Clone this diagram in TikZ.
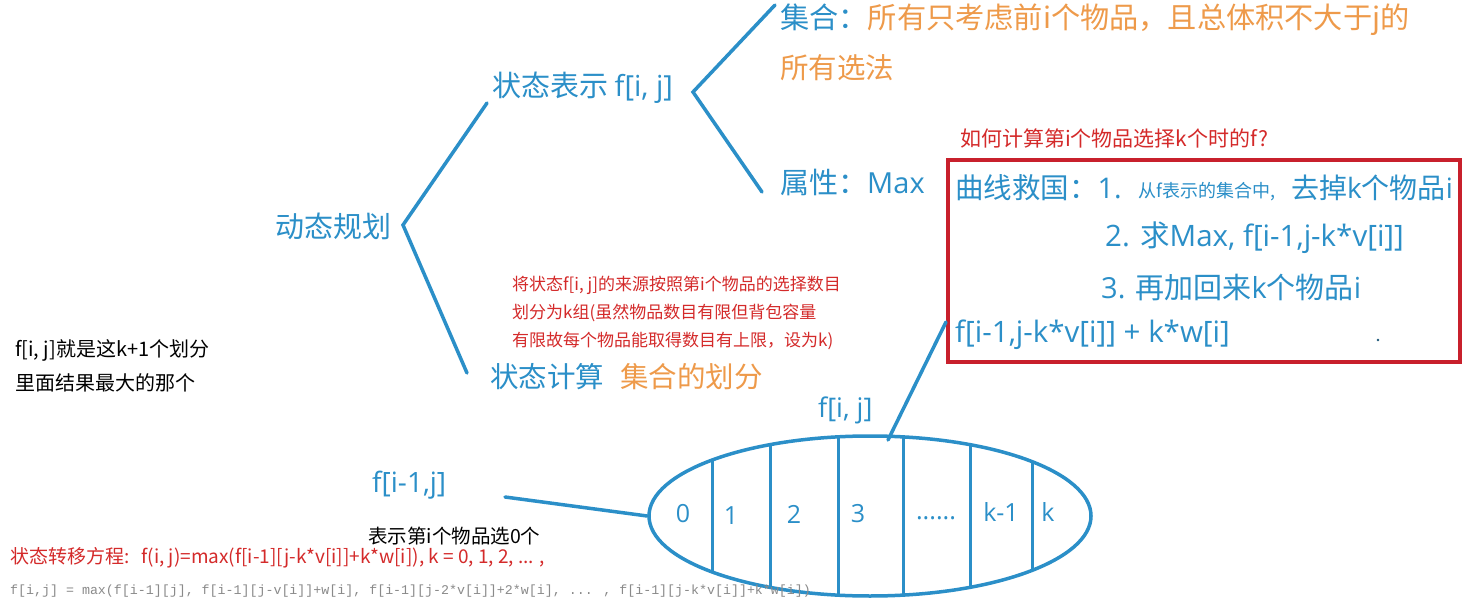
\documentclass[tikz,border=0pt]{standalone}
\usepackage{fontspec}
\setmainfont{Noto Sans CJK SC}
\newfontfamily\monof{Liberation Mono}
\newfontfamily\osans{Open Sans}
\newcommand{\lt}[1]{{\osans #1}}
\usetikzlibrary{shapes.geometric}
\definecolor{cblue}{HTML}{2B8FC8}
\definecolor{corange}{HTML}{EE9A4A}
\definecolor{cred}{HTML}{D42A2A}
\definecolor{boxred}{HTML}{C8202C}
\definecolor{cgray}{HTML}{8A8A8A}
\newcommand{\fs}[1]{\fontsize{#1}{#1}\selectfont}
\begin{document}
\begin{tikzpicture}[x=1pt,y=-1pt,
  lbl/.style={inner sep=0pt, anchor=west},
  bigblue/.style={lbl, text=cblue, font=\fs{29.5}},
  bigorange/.style={lbl, text=corange, font=\fs{28.5}},
  rednote/.style={lbl, text=cred, font=\fs{17}},
  blacknote/.style={lbl, text=black, font=\fs{20}},
  cell/.style={inner sep=0pt, text=cblue, font=\osans\fs{25}},
  bline/.style={draw=cblue, line width=3.5pt, line cap=round},
  cline/.style={draw=cblue, line width=3pt}]
\useasboundingbox[fill=white] (0,0) rectangle (1472,604);

% tree nodes
\node[bigblue, font=\fs{29}] (dp) at (275,226) {动态规划};
\node[bigblue, font=\fs{29}] (rep) at (492,88) {状态表示 \lt{f[i, j]}};
\node[bigorange, font=\fs{29.2}] (set) at (780,20) {{\color{cblue}集合：}所有只考虑前i个物品，且总体积不大于j的};
\node[bigorange] (set2) at (780,68) {所有选法};
\node[bigblue, font=\fs{29}] (attr) at (780,182) {属性：\lt{Max}};
\node[bigblue, font=\fs{28.5}] (calc) at (490,377) {状态计算};
\node[bigorange] (part) at (620,377) {集合的划分};

% brackets
\coordinate (b1) at (403,225);
\coordinate (b1u) at (487,103);
\coordinate (b1d) at (467,373);
\draw[bline] (b1u) -- (b1) -- (b1d);
\coordinate (b2) at (693,92);
\coordinate (b2u) at (775,5);
\coordinate (b2d) at (762,192);
\draw[bline] (b2u) -- (b2) -- (b2d);

% question and box
\node[lbl, text=cred, font=\fs{21}] (q) at (960,138) {如何计算第i个物品选择k个时的f?};
\draw[draw=boxred, line width=4pt] (948,160) rectangle (1460,362);
\node[bigblue, font=\fs{28.5}] (r1a) at (955,188) {曲线救国：\lt{1.}};
\node[lbl, text=cblue, font=\fs{18}] (r1b) at (1138,192) {从f表示的集合中,};
\node[bigblue, font=\fs{28}] (r1c) at (1291,188) {去掉\lt{k}个物品\lt{i}};
\node[bigblue] (r2) at (1105,238) {\lt{2. }求\lt{Max, f[i-1,j-k*v[i]]}};
\node[bigblue, font=\fs{29}] (r3) at (1101,287) {\lt{3. }再加回来\lt{k}个物品\lt{i}};
\node[bigblue] (r4) at (955,335) {\lt{f[i-1,j-k*v[i]] + k*w[i]}};
\fill[cblue!60!black] (1378,340) circle (1.3pt);

% red note
\node[rednote] (n1) at (512,285) {将状态f[i, j]的来源按照第i个物品的选择数目};
\node[rednote] (n2) at (512,313) {划分为k组(虽然物品数目有限但背包容量};
\node[rednote] (n3) at (512,341) {有限故每个物品能取得数目有上限，设为k)};

% left note
\node[blacknote] (l1) at (15,350) {f[i, j]就是这k+1个划分};
\node[blacknote] (l2) at (15,383) {里面结果最大的那个};

% ellipse set
\node[ellipse, draw=cblue, line width=3.5pt, minimum width=442pt, minimum height=160pt, inner sep=0pt] (E) at (870,516) {};
\begin{scope}
  \clip (870,516) ellipse [x radius=221pt, y radius=80pt];
  \foreach \xx in {712,770,838,903,970} \draw[cline] (\xx,420) -- (\xx,610);
\end{scope}
\draw[cline] (1032,462) -- (1032,570);
\node[cell] (c0) at (683,514) {0};
\node[cell] (c1) at (731,516) {1};
\node[cell] (c2) at (794,514) {2};
\node[cell] (c3) at (858,514) {3};
\node[cell] (c4) at (936,518) {......};
\node[cell] (c5) at (1001,512) {k-1};
\node[cell] (c6) at (1048,512) {k};

\node[lbl, text=cblue, font=\osans\fs{27}] (fij) at (818,410) {f[i, j]};
\coordinate (t1) at (888,440);
\coordinate (t2) at (946,322);
\draw[bline] (t1) -- (t2);
\node[lbl, text=cblue, font=\osans\fs{28}] (fim) at (372,485) {f[i-1,j]};
\coordinate (m1) at (505,497);
\draw[bline] (m1) -- (E.west);

% bottom
\node[lbl, text=black, font=\fs{19.5}] (sel0) at (368,536) {表示第i个物品选0个};
\node[lbl, text=cred, font=\fs{19}] (eq) at (10,558) {状态转移方程:\hspace{12pt}f(i, j)=max(f[i-1][j-k*v[i]]+k*w[i]), k = 0, 1, 2, ... ,};
\node[lbl, text=cgray, font=\monof\fs{13.3}] (mono) at (10,591) {f[i,j] = max(f[i-1][j], f[i-1][j-v[i]]+w[i], f[i-1][j-2*v[i]]+2*w[i], ... , f[i-1][j-k*v[i]]+k*w[i])};
\end{tikzpicture}
\end{document}
